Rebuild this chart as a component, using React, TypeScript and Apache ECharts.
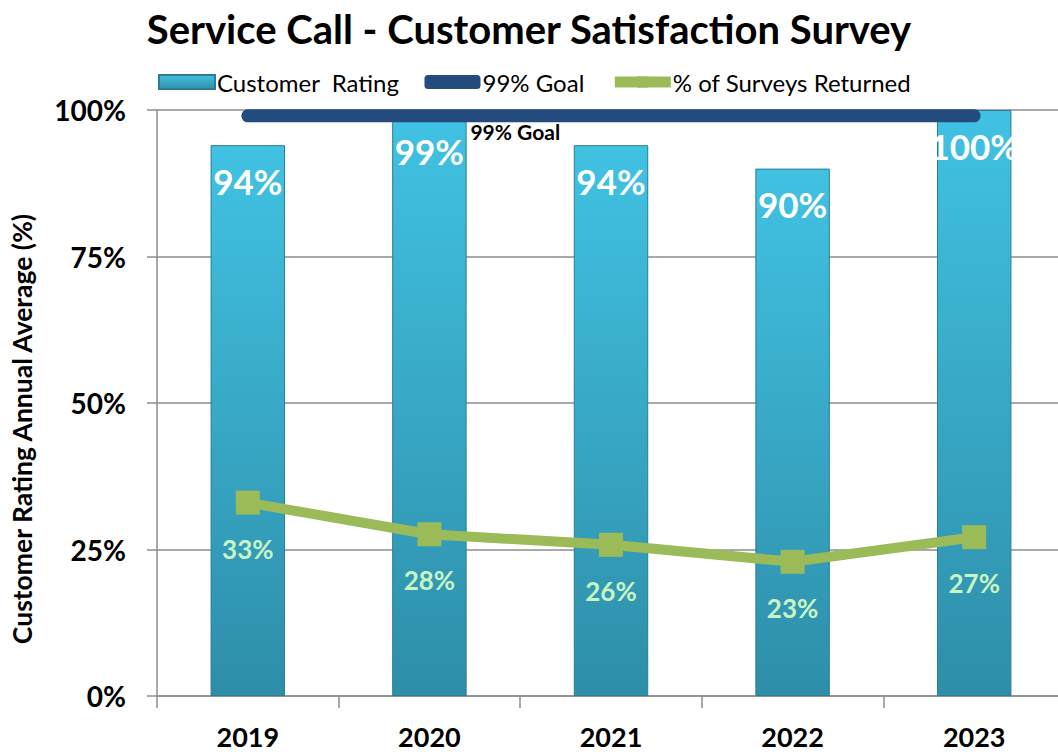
import React, { useEffect, useRef } from "react";
import * as echarts from "echarts";

const categories = ["2019", "2020", "2021", "2022", "2023"];
const customerRating = [94, 99, 94, 90, 100];
const goal = [99, 99, 99, 99, 99];
const surveysReturned = [33, 27.6, 25.8, 22.9, 27.1];
const yTicks = [0, 25, 50, 75, 100];
const yAxisTitle = "Customer Rating Annual Average (%)";

const FONT = "Lato, 'Liberation Sans', sans-serif";

export default function App() {
  const ref = useRef<HTMLDivElement>(null);
  useEffect(() => {
    document.body.style.margin = "0";
    const chart = echarts.init(ref.current!, null, { renderer: "svg" });
    const barGradient = new echarts.graphic.LinearGradient(0, 0, 0, 1, [
      { offset: 0, color: "#41c2e3" },
      { offset: 1, color: "#2e8ea9" },
    ]);
    chart.setOption({
      animation: false,
      textStyle: { fontFamily: FONT },
      title: {
        text: "Service Call - Customer Satisfaction Survey",
        left: "center",
        top: 4,
        textStyle: { fontFamily: FONT, fontSize: 40, fontWeight: "bold", color: "#000" },
      },
      legend: {
        top: 65,
        left: 153,
        itemGap: 25,
        itemWidth: 56,
        itemHeight: 14,
        textStyle: { fontFamily: FONT, fontSize: 24, color: "#000", padding: [0, 0, 0, -3] },
        data: [
          { name: "Customer  Rating", icon: "rect" },
          { name: "99% Goal", icon: "roundRect" },
          { name: "% of Surveys Returned", lineStyle: { width: 11 }, itemStyle: { color: "#9bbb59" } },
        ],
      },
      graphic: [
        {
          type: "text",
          x: 22,
          y: 429,
          rotation: Math.PI / 2,
          style: {
            text: yAxisTitle,
            fontFamily: FONT,
            fontSize: 26.5,
            fontWeight: "bold",
            fill: "#000",
            align: "center",
            verticalAlign: "middle",
          },
        },
      ],
      grid: { left: 157, right: -7, top: 110, bottom: 59, containLabel: false, outerBoundsMode: "none" },
      xAxis: {
        type: "category",
        data: categories,
        axisLine: { lineStyle: { color: "#8c8c8c", width: 1.5 } },
        axisTick: { show: true, length: 12, lineStyle: { color: "#8c8c8c", width: 1.5 } },
        axisLabel: {
          fontFamily: FONT,
          fontSize: 27,
          fontWeight: "bold",
          color: "#000",
          margin: 27,
        },
      },
      yAxis: {
        type: "value",
        min: 0,
        max: 100,
        interval: 25,
        axisLine: { show: true, lineStyle: { color: "#8c8c8c", width: 1.5 } },
        axisTick: { show: true, inside: false, length: 10, lineStyle: { color: "#8c8c8c", width: 1.5 } },
        splitLine: { show: true, lineStyle: { color: "#8c8c8c", width: 1.5 } },
        axisLabel: {
          fontFamily: FONT,
          fontSize: 28,
          fontWeight: "bold",
          color: "#000",
          margin: 31,
          formatter: (v: number) => (yTicks.includes(v) ? v + "%" : ""),
        },
      },
      series: [
        {
          name: "Customer  Rating",
          type: "bar",
          data: customerRating,
          barWidth: "41%",
          z: 1,
          itemStyle: { color: barGradient, borderColor: "#2a7d94", borderWidth: 1 },
          label: {
            show: true,
            position: "insideTop",
            distance: 18,
            fontFamily: FONT,
            fontSize: 35,
            fontWeight: "bold",
            color: "#fff",
            formatter: (p: any) => Math.round(p.value) + "%",
          },
        },
        {
          name: "99% Goal",
          type: "line",
          data: goal.map((v, i) =>
            i === 1
              ? {
                  value: v,
                  label: {
                    show: true,
                    position: "right",
                    offset: [36, 16],
                    formatter: "99% Goal",
                    fontFamily: FONT,
                    fontSize: 21,
                    fontWeight: "bold",
                    color: "#000",
                  },
                }
              : v
          ),
          symbol: "circle",
          symbolSize: 0,
          showSymbol: true,
          z: 3,
          color: "#234b7d",
          lineStyle: { color: "#234b7d", width: 13, cap: "round" },
          itemStyle: { color: "#234b7d" },
        },
        {
          name: "% of Surveys Returned",
          type: "line",
          data: surveysReturned,
          symbol: "rect",
          symbolSize: 24,
          z: 4,
          color: "#9bbb59",
          lineStyle: { color: "#9bbb59", width: 10 },
          itemStyle: { color: "#9bbb59" },
          label: {
            show: true,
            position: "bottom",
            distance: 21,
            fontFamily: FONT,
            fontSize: 26,
            fontWeight: "bold",
            color: "#c8f5c4",
            formatter: (p: any) => Math.round(p.value) + "%",
          },
        },
      ],
    });
    return () => chart.dispose();
  }, []);
  return <div ref={ref} style={{ width: 1058, height: 755 }} />;
}
